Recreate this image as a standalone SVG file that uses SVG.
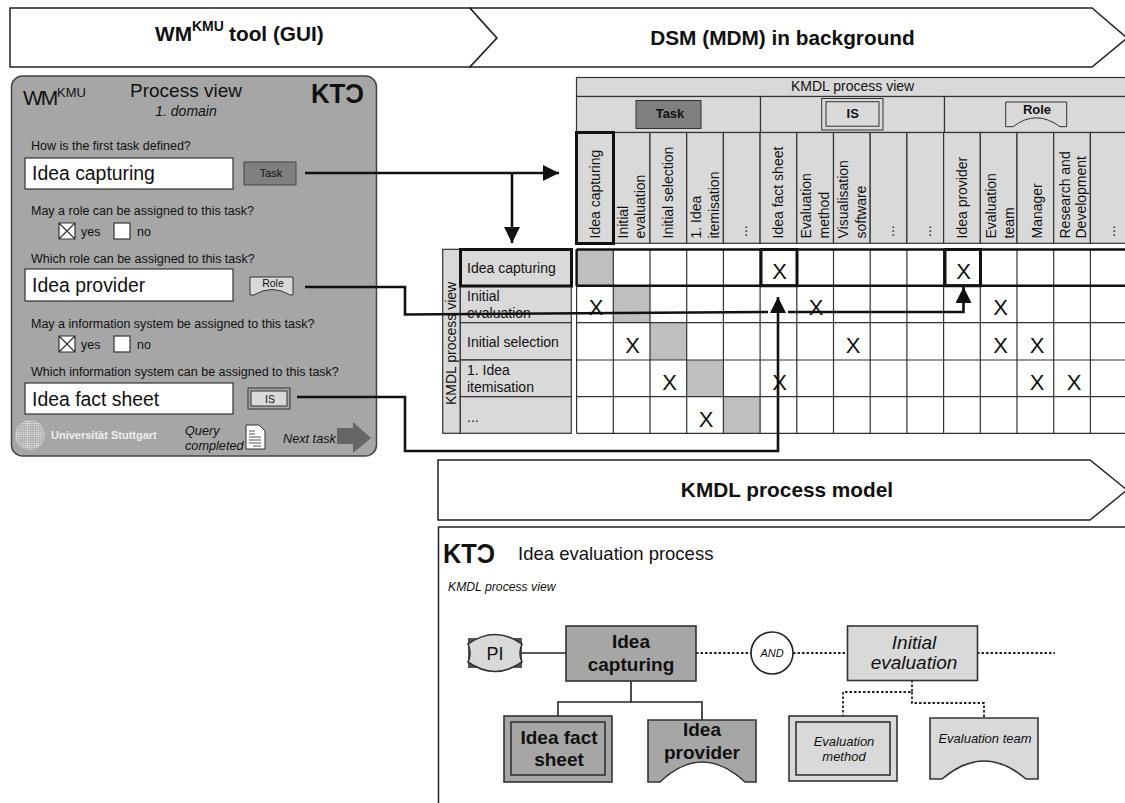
<svg xmlns="http://www.w3.org/2000/svg" width="1125" height="803" viewBox="0 0 1125 803">
<style>
text{font-family:"Liberation Sans",Arial,sans-serif;fill:#111}
.t{font-weight:bold;font-size:20.8px}
.q{font-size:12.5px}
.in{font-size:19.4px}
.hc{font-size:14px}
.rl{font-size:14px}
.x{font-size:22px;text-anchor:middle}
.logo{font-weight:bold;font-size:27px}
.c{text-anchor:middle}
.i{font-style:italic}
.b{font-weight:bold}
.bar{fill:#fff;stroke:#222;stroke-width:1.5}
.box{fill:#fff;stroke:#333;stroke-width:1.2}
.hcell{fill:#d9d9d9;stroke:#333;stroke-width:1.2}
.th{fill:none;stroke:#111;stroke-width:3}
.conn{fill:none;stroke:#111;stroke-width:2.6}
.sol{fill:none;stroke:#222;stroke-width:1.6}
.dot{fill:none;stroke:#222;stroke-width:1.8;stroke-dasharray:2.5 2}
.dark{fill:#a6a6a6;stroke:#333;stroke-width:1.6}
.light{fill:#d9d9d9;stroke:#333;stroke-width:1.6}
</style>
<defs>
<marker id="ah" markerUnits="userSpaceOnUse" markerWidth="18" markerHeight="16" refX="16" refY="8" orient="auto"><path d="M0 0L16 8L0 16z" fill="#111"/></marker>
<pattern id="dots" width="2.2" height="2.2" patternUnits="userSpaceOnUse"><circle cx="1.1" cy="1.1" r="0.75" fill="#eee"/></pattern>
</defs>

<g id="bar-gui"><path class="bar" d="M10 8H470L497 38L470 67H10z"/><text class="t" x="155" y="41">WM</text><text class="b" x="192" y="31" font-size="14">KMU</text><text class="t" x="229" y="41">tool (GUI)</text></g>
<g id="bar-dsm"><path class="bar" d="M470 8H1092L1127 38L1092 67H470L497 38z"/><text class="t c" x="782.500" y="45">DSM (MDM) in background</text></g>
<g id="bar-kmdl"><path class="bar" d="M438 460H1090L1127 490L1090 520H438z"/><text class="t c" x="787" y="497">KMDL process model</text></g>

<g id="gui-panel">
<rect x="11.500" y="76" width="365" height="380" rx="11" fill="#a6a6a6" stroke="#444" stroke-width="1.500"/>
<text x="23" y="105" font-size="21" letter-spacing="-2">WM</text><text x="57" y="97" font-size="13">KMU</text>
<text class="c" x="186" y="97" font-size="19">Process view</text>
<text class="c i" x="186" y="116" font-size="14">1. domain</text>
<text class="logo" x="311" y="103" textLength="53" lengthAdjust="spacingAndGlyphs">KTƆ</text>
<text class="q" x="31" y="150">How is the first task defined?</text>
<rect class="box" x="25" y="158" width="208" height="31"/><text class="in" x="32" y="180">Idea capturing</text>
<rect x="244" y="162" width="52" height="23" fill="#7f7f7f" stroke="#444"/><text class="c" x="271" y="177" font-size="11">Task</text>
<text class="q" x="31" y="215">May a role can be assigned to this task?</text>
<path class="box" d="M59 223h16v16h-16zM59 223l16 16M75 223l-16 16"/><text class="q" x="81" y="236">yes</text><rect class="box" x="114" y="223" width="16" height="16"/><text class="q" x="137" y="236">no</text>
<text class="q" x="31" y="263">Which role can be assigned to this task?</text>
<rect class="box" x="25" y="269" width="208" height="32"/><text class="in" x="32" y="292">Idea provider</text>
<path d="M250 277H293V295H290Q272 284 254 295H250z" fill="#d9d9d9" stroke="#333"/><text class="c" x="273" y="287" font-size="10.500">Role</text>
<text class="q" x="31" y="328">May a information system be assigned to this task?</text>
<path class="box" d="M59 336h16v16h-16zM59 336l16 16M75 336l-16 16"/><text class="q" x="81" y="349">yes</text><rect class="box" x="114" y="336" width="16" height="16"/><text class="q" x="137" y="349">no</text>
<text class="q" x="31" y="376">Which information system can be assigned to this task?</text>
<rect class="box" x="25" y="383" width="208" height="31"/><text class="in" x="32" y="406">Idea fact sheet</text>
<rect x="248" y="388" width="42" height="21" fill="#a6a6a6" stroke="#333"/><rect x="251" y="391" width="36" height="15" fill="#d9d9d9" stroke="#333"/><text class="c" x="270" y="403" font-size="10.500">IS</text>
<circle cx="30" cy="435" r="15" fill="url(#dots)"/>
<text x="51" y="439" font-size="11" font-weight="bold" style="fill:#eee">Universität Stuttgart</text>
<text class="i" x="185" y="435" font-size="12.700">Query</text><text class="i" x="185" y="450" font-size="12.700">completed</text>
<path d="M246 425H259L265 431V449H246z" fill="#fff" stroke="#333"/><path d="M249 431h6M249 434h6M249 437h12M249 440h12M249 443h12M253 446h8" stroke="#555" fill="none"/>
<text class="i" x="283" y="443" font-size="12.700">Next task</text>
<path d="M337 428H353V422L371 438L353 453V444H337z" fill="#666"/>
</g>

<g id="dsm-header">
<rect class="hcell" x="576.500" y="77.500" width="560" height="19"/>
<text x="791" y="91" font-size="14">KMDL process view</text>
<rect class="hcell" x="576.500" y="96.500" width="184" height="36"/><rect class="hcell" x="760.500" y="96.500" width="184" height="36"/><rect class="hcell" x="944.500" y="96.500" width="190" height="36"/>
<rect x="636" y="100.500" width="65" height="28" fill="#7f7f7f" stroke="#333"/><text class="c b" x="670" y="118" font-size="13">Task</text>
<rect x="821.700" y="98.500" width="61.300" height="31.500" fill="#d9d9d9" stroke="#333"/><rect x="826" y="101.700" width="53" height="24.500" fill="#d9d9d9" stroke="#333"/><text class="c b" x="852.700" y="118" font-size="13">IS</text>
<path d="M1005.700 102H1066.700V126.700H1060Q1036 109 1013 126.700H1005.700z" fill="#d9d9d9" stroke="#333"/><text class="c b" x="1037" y="114" font-size="13">Role</text>
<rect class="hcell" x="576.600" y="132.500" width="36.700" height="110.800"/><rect class="hcell" x="613.300" y="132.500" width="36.700" height="110.800"/><rect class="hcell" x="650" y="132.500" width="36.700" height="110.800"/><rect class="hcell" x="686.700" y="132.500" width="36.700" height="110.800"/><rect class="hcell" x="723.400" y="132.500" width="36.700" height="110.800"/><rect class="hcell" x="760.100" y="132.500" width="36.700" height="110.800"/><rect class="hcell" x="796.800" y="132.500" width="36.700" height="110.800"/><rect class="hcell" x="833.500" y="132.500" width="36.700" height="110.800"/><rect class="hcell" x="870.200" y="132.500" width="36.700" height="110.800"/><rect class="hcell" x="906.900" y="132.500" width="36.700" height="110.800"/><rect class="hcell" x="943.600" y="132.500" width="36.700" height="110.800"/><rect class="hcell" x="980.300" y="132.500" width="36.700" height="110.800"/><rect class="hcell" x="1017" y="132.500" width="36.700" height="110.800"/><rect class="hcell" x="1053.700" y="132.500" width="36.700" height="110.800"/><rect class="hcell" x="1090.400" y="132.500" width="36.700" height="110.800"/>
<text class="hc" transform="translate(600 238.500) rotate(-90)">Idea capturing</text>
<text class="hc" transform="translate(627.700 238.500) rotate(-90)">Initial</text><text class="hc" transform="translate(645 238.500) rotate(-90)">evaluation</text>
<text class="hc" transform="translate(672.700 238.500) rotate(-90)">Initial selection</text>
<text class="hc" transform="translate(701 238.500) rotate(-90)">1. Idea</text><text class="hc" transform="translate(718.700 238.500) rotate(-90)">itemisation</text>
<text class="hc" transform="translate(747 237) rotate(-90)">...</text>
<text class="hc" transform="translate(783 238.500) rotate(-90)">Idea fact sheet</text>
<text class="hc" transform="translate(811 238.500) rotate(-90)">Evaluation</text><text class="hc" transform="translate(829 238.500) rotate(-90)">method</text>
<text class="hc" transform="translate(847.700 238.500) rotate(-90)">Visualisation</text><text class="hc" transform="translate(866 238.500) rotate(-90)">software</text>
<text class="hc" transform="translate(894 237) rotate(-90)">...</text>
<text class="hc" transform="translate(931 237) rotate(-90)">...</text>
<text class="hc" transform="translate(967 238.500) rotate(-90)">Idea provider</text>
<text class="hc" transform="translate(996 238.500) rotate(-90)">Evaluation</text><text class="hc" transform="translate(1014 238.500) rotate(-90)">team</text>
<text class="hc" transform="translate(1042 238.500) rotate(-90)">Manager</text>
<text class="hc" transform="translate(1070 238.500) rotate(-90)">Research and</text><text class="hc" transform="translate(1086 238.500) rotate(-90)">Development</text>
<text class="hc" transform="translate(1115 237) rotate(-90)">...</text>
<rect class="th" x="576.500" y="132.500" width="37" height="111"/>
</g>

<g id="dsm-rows">
<rect class="hcell" x="442.700" y="249.300" width="17.600" height="184"/>
<text class="hc" transform="translate(456 405) rotate(-90)">KMDL process view</text>
<rect class="hcell" x="460.300" y="249.300" width="111" height="36.400"/><rect class="hcell" x="460.300" y="285.700" width="111" height="37"/><rect class="hcell" x="460.300" y="322.700" width="111" height="37.300"/><rect class="hcell" x="460.300" y="360" width="111" height="36.700"/><rect class="hcell" x="460.300" y="396.700" width="111" height="36.600"/>
<text class="rl" x="467" y="273">Idea capturing</text>
<text class="rl" x="467" y="301">Initial</text><text class="rl" x="467" y="318">evaluation</text>
<text class="rl" x="467" y="347">Initial selection</text>
<text class="rl" x="467" y="375">1. Idea</text><text class="rl" x="467" y="392">itemisation</text>
<text class="rl" x="467" y="422">...</text>
<rect class="th" x="460.500" y="249.500" width="111" height="36.500"/>
</g>

<g id="dsm-grid">
<path fill="#fff" d="M576.600 249.300H1125V433.300H576.600z"/>
<path fill="#bfbfbf" d="M576.600 249.300h36.700v36.400h-36.700zM613.300 285.700h36.700v37h-36.700zM650 322.700h36.700v37.300h-36.700zM686.700 360h36.700v36.700h-36.700zM723.400 396.700h36.700v36.600h-36.700z"/>
<path fill="none" stroke="#333" stroke-width="1.200" d="M576.600 249.300V433.300M613.300 249.300V433.300M650 249.300V433.300M686.700 249.300V433.300M723.400 249.300V433.300M760.100 249.300V433.300M796.800 249.300V433.300M833.500 249.300V433.300M870.200 249.300V433.300M906.900 249.300V433.300M943.600 249.300V433.300M980.300 249.300V433.300M1017 249.300V433.300M1053.700 249.300V433.300M1090.400 249.300V433.300M576.600 285.700H1125M576.600 322.700H1125M576.600 360H1125M576.600 396.700H1125M576.600 433.300H1125"/>
<path fill="none" stroke="#111" stroke-width="2.400" d="M576.600 249.500H1125M576.600 285.700H1125M576.600 249.500V285.700"/>
<path fill="none" stroke="#111" stroke-width="3" d="M761 249.500H797V285.700H761zM945 249.500H980.500V285.700H945z"/>
<text class="x" x="779.500" y="279">X</text><text class="x" x="963.500" y="279">X</text>
<text class="x" x="596" y="315">X</text><text class="x" x="816" y="315">X</text><text class="x" x="1000.500" y="315">X</text>
<text class="x" x="632.500" y="353">X</text><text class="x" x="853" y="353">X</text><text class="x" x="1000.500" y="353">X</text><text class="x" x="1037" y="353">X</text>
<text class="x" x="669.500" y="390">X</text><text class="x" x="779.500" y="390">X</text><text class="x" x="1037" y="390">X</text><text class="x" x="1074" y="390">X</text>
<text class="x" x="706" y="427">X</text>
</g>

<g id="connectors">
<path class="conn" marker-end="url(#ah)" d="M305 173H559"/>
<path class="conn" marker-end="url(#ah)" d="M512 173V243"/>
<path class="conn" d="M305 287H405V314.500L768 312"/>
<path class="conn" marker-end="url(#ah)" d="M788 312H963.500V287"/>
<path class="conn" marker-end="url(#ah)" d="M297 397H405V451H778V297"/>
<path class="sol" d="M522 653H566M631 681V702M558 716V702H702V720"/>
<path class="dot" d="M696 653H751M793 653H847M977 653H1055M912 680V692H843V716M912 692V703H984V718"/>
</g>

<g id="model-frame">
<path fill="none" stroke="#222" stroke-width="1.500" d="M1127 527H438.500V803"/>
<text class="logo" x="443" y="563" textLength="52" lengthAdjust="spacingAndGlyphs">KTƆ</text>
<text x="518" y="560" font-size="18.500">Idea evaluation process</text>
<text class="i" x="448" y="591" font-size="12.200">KMDL process view</text>
</g>
<g id="node-pi"><path fill="#555" d="M468 638h8v30h-8zM514 638h8v30h-8z"/><path fill="#d9d9d9" stroke="#333" stroke-width="1.600" d="M468 644Q495 625 522 644Q518 653 522 662Q495 681 468 662Q472 653 468 644z"/><text class="c" x="495" y="660" font-size="18">PI</text></g>
<g id="node-idea-capturing"><rect class="dark" x="566" y="626" width="130" height="55"/><text class="c b" x="631" y="648" font-size="19">Idea</text><text class="c b" x="631" y="671" font-size="19">capturing</text></g>
<g id="node-and"><circle cx="772" cy="653" r="21" fill="#fff" stroke="#222" stroke-width="1.600"/><text class="c i" x="772" y="657" font-size="11">AND</text></g>
<g id="node-initial-evaluation"><rect class="light" x="847.500" y="626" width="130" height="54.500"/><text class="c i" x="914" y="649" font-size="19">Initial</text><text class="c i" x="914" y="669" font-size="19">evaluation</text></g>
<g id="node-idea-fact-sheet"><rect class="dark" x="504" y="716" width="108" height="66"/><rect class="dark" x="511" y="722" width="94" height="53"/><text class="c b" x="559" y="744" font-size="19">Idea fact</text><text class="c b" x="559" y="766" font-size="19">sheet</text></g>
<g id="node-idea-provider"><path class="dark" d="M648 720H756V782H745Q702 742 660 782H648z"/><text class="c b" x="702" y="736" font-size="19">Idea</text><text class="c b" x="702" y="759" font-size="19">provider</text></g>
<g id="node-evaluation-method"><rect class="light" x="789" y="716" width="108" height="65"/><rect class="light" x="796" y="722" width="94" height="53"/><text class="c i" x="844" y="746" font-size="13">Evaluation</text><text class="c i" x="844" y="761" font-size="13">method</text></g>
<g id="node-evaluation-team"><path class="light" d="M930 718H1038V779H1026Q984 743 942 779H930z"/><text class="c i" x="985" y="743" font-size="13">Evaluation team</text></g>
</svg>
